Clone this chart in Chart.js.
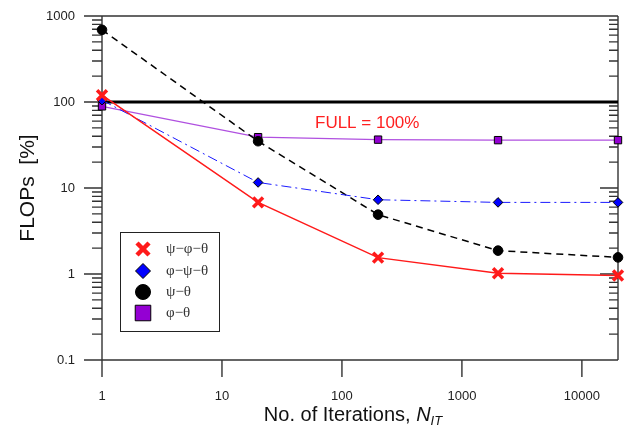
<!DOCTYPE html>
<html><head><meta charset="utf-8">
<script src="https://cdn.jsdelivr.net/npm/chart.js@4.4.0/dist/chart.umd.min.js"></script>
<style>html,body{margin:0;padding:0;background:#fff}#wrap{width:633px;height:428px}</style>
</head><body><div id="wrap"><canvas id="c" width="633" height="428"></canvas></div>
<script>
const iterations = [1, 20, 200, 2000, 20000];
const psiPhiTheta = [120, 6.8, 1.55, 1.02, 0.96];
const phiPsiTheta = [105, 11.6, 7.3, 6.8, 6.8];
const psiTheta = [690, 35, 4.9, 1.87, 1.56];
const phiTheta = [89, 39, 36.5, 36, 36];
const fullX = [1, 20000];
const fullLevel = [100, 100];
const xTickValues = [1, 10, 100, 1000, 10000];
const yTickValues = [0.1, 1, 10, 100, 1000];
const seriesNames = ['ψ−φ−θ', 'φ−ψ−θ', 'ψ−θ', 'φ−θ'];
const fullLabel = 'FULL = 100%';
const yTitle = 'FLOPs  [%]';
const xTitle = 'No. of Iterations, ';

const pts = (xs, ys) => xs.map((v, i) => ({x: v, y: ys[i]}));

const datasets = [
  {label: seriesNames[0], data: pts(iterations, psiPhiTheta), borderColor: '#ff1a1a', borderWidth: 1.5,
   pointStyle: 'crossRot', pointRadius: 7, pointBorderWidth: 3.5, pointBorderColor: '#ff1a1a', pointBackgroundColor: '#ff1a1a',
   legendRadius: 8.5, legendBorderWidth: 4.5},
  {label: seriesNames[1], data: pts(iterations, phiPsiTheta), borderColor: '#1a1aff', borderWidth: 1, borderDash: [10, 4, 2, 4],
   pointStyle: 'rectRot', pointRadius: 4.8, pointBorderWidth: 1, pointBorderColor: '#000', pointBackgroundColor: '#0000ff',
   legendRadius: 7.5, legendBorderWidth: 1},
  {label: seriesNames[2], data: pts(iterations, psiTheta), borderColor: '#000', borderWidth: 1.5, borderDash: [7, 5],
   pointStyle: 'circle', pointRadius: 4.8, pointBorderWidth: 1, pointBorderColor: '#000', pointBackgroundColor: '#000',
   legendRadius: 7.5, legendBorderWidth: 1},
  {label: seriesNames[3], data: pts(iterations, phiTheta), borderColor: '#b050e0', borderWidth: 1.3,
   pointStyle: 'rect', pointRadius: 5.2, pointBorderWidth: 1, pointBorderColor: '#000', pointBackgroundColor: '#9400d3',
   legendRadius: 11, legendBorderWidth: 1},
  {label: 'full', data: pts(fullX, fullLevel), borderColor: '#000', borderWidth: 2.8, pointRadius: 0}
];
datasets.forEach(d => { d.clip = false; d.tension = 0; d.fill = false; d.pointHoverRadius = d.pointRadius; });

const frame = {
  id: 'frame',
  beforeDatasetsDraw(chart) {
    const {ctx, chartArea: a, scales: {x, y}} = chart;
    ctx.save();
    ctx.strokeStyle = '#333'; ctx.lineWidth = 1.4;
    ctx.beginPath();
    ctx.moveTo(a.left, a.top); ctx.lineTo(a.left, a.bottom);
    ctx.moveTo(a.right, a.top); ctx.lineTo(a.right, a.bottom);
    ctx.moveTo(a.left - 18, a.top); ctx.lineTo(a.right, a.top);
    ctx.moveTo(a.left - 18, a.bottom); ctx.lineTo(a.right, a.bottom);
    yTickValues.forEach(v => {
      const py = y.getPixelForValue(v);
      ctx.moveTo(a.left - 18, py); ctx.lineTo(a.left, py);
      ctx.moveTo(a.right - 18, py); ctx.lineTo(a.right, py);
      if (v < 1000) {
        for (let k = 2; k <= 9; k++) {
          const pm = y.getPixelForValue(v * k);
          ctx.moveTo(a.left - 10, pm); ctx.lineTo(a.left, pm);
          ctx.moveTo(a.right - 9, pm); ctx.lineTo(a.right, pm);
        }
      }
    });
    xTickValues.forEach(v => {
      const px = x.getPixelForValue(v);
      ctx.moveTo(px, a.bottom); ctx.lineTo(px, a.bottom + 17);
    });
    ctx.stroke();
    ctx.restore();
  },
  afterDraw(chart) {
    const {ctx, chartArea: a, scales: {x, y}} = chart;
    ctx.save();
    // FULL label
    ctx.fillStyle = '#ff2020';
    ctx.font = '17px "Liberation Sans", Arial, sans-serif';
    ctx.textBaseline = 'middle'; ctx.textAlign = 'left';
    ctx.fillText(fullLabel, 315, y.getPixelForValue(100) + 21);
    // y title
    ctx.fillStyle = '#111';
    ctx.font = '21px "Liberation Sans", Arial, sans-serif';
    ctx.save();
    ctx.translate(28, 188); ctx.rotate(-Math.PI / 2);
    ctx.textAlign = 'center'; ctx.textBaseline = 'middle';
    ctx.fillText(yTitle, 0, 0);
    ctx.restore();
    // x title
    ctx.font = '20px "Liberation Sans", Arial, sans-serif';
    ctx.textBaseline = 'alphabetic'; ctx.textAlign = 'left';
    const w1 = ctx.measureText(xTitle).width;
    ctx.font = 'italic 20px "Liberation Sans", Arial, sans-serif';
    const w2 = ctx.measureText('N').width;
    ctx.font = 'italic 13px "Liberation Sans", Arial, sans-serif';
    const w3 = ctx.measureText('IT').width;
    let x0 = 353 - (w1 + w2 + w3) / 2;
    const base = 421;
    ctx.font = '20px "Liberation Sans", Arial, sans-serif';
    ctx.fillText(xTitle, x0, base);
    ctx.font = 'italic 20px "Liberation Sans", Arial, sans-serif';
    ctx.fillText('N', x0 + w1, base);
    ctx.font = 'italic 13px "Liberation Sans", Arial, sans-serif';
    ctx.fillText('IT', x0 + w1 + w2, base + 4);
    // legend
    ctx.strokeStyle = '#222'; ctx.lineWidth = 1;
    ctx.fillStyle = '#fff';
    ctx.fillRect(120.5, 232.5, 99, 99);
    ctx.strokeRect(120.5, 232.5, 99, 99);
    const rows = [249, 271, 292, 313];
    chart.data.datasets.slice(0, 4).forEach((d, i) => {
      ctx.fillStyle = d.pointBackgroundColor;
      ctx.strokeStyle = d.pointBorderColor;
      ctx.lineWidth = d.legendBorderWidth;
      Chart.helpers.drawPoint(ctx, {pointStyle: d.pointStyle, radius: d.legendRadius, rotation: 0, borderWidth: d.legendBorderWidth}, 143, rows[i]);
      ctx.fillStyle = '#333';
      ctx.font = '15px "Liberation Serif", "Times New Roman", serif';
      ctx.textAlign = 'left'; ctx.textBaseline = 'middle';
      ctx.fillText(d.label, 166, rows[i]);
    });
    ctx.restore();
  }
};

new Chart(document.getElementById('c'), {
  type: 'line',
  data: {datasets},
  options: {
    responsive: false, animation: false, devicePixelRatio: 1,
    layout: {padding: {top: 16, right: 15, left: 0, bottom: 0}},
    plugins: {legend: {display: false}, tooltip: {enabled: false}},
    scales: {
      x: {
        type: 'logarithmic', min: 1, max: 20000,
        afterBuildTicks: s => { s.ticks = xTickValues.map(v => ({value: v})); },
        afterFit: s => { s.height = 68; s.paddingLeft = 0; s.paddingRight = 0; },
        grid: {display: false, drawTicks: false}, border: {display: false},
        ticks: {autoSkip: false, maxRotation: 0, padding: 29, color: '#222',
          font: {family: '"Liberation Sans", Arial, sans-serif', size: 13},
          callback: v => String(v)}
      },
      y: {
        type: 'logarithmic', min: 0.1, max: 1000,
        afterBuildTicks: s => { s.ticks = yTickValues.map(v => ({value: v})); },
        afterFit: s => { s.width = 102; s.paddingTop = 0; s.paddingBottom = 0; },
        grid: {display: false, drawTicks: false}, border: {display: false},
        ticks: {autoSkip: false, padding: 27, color: '#222',
          font: {family: '"Liberation Sans", Arial, sans-serif', size: 13},
          callback: v => String(v)}
      }
    }
  },
  plugins: [frame]
});
</script></body></html>
